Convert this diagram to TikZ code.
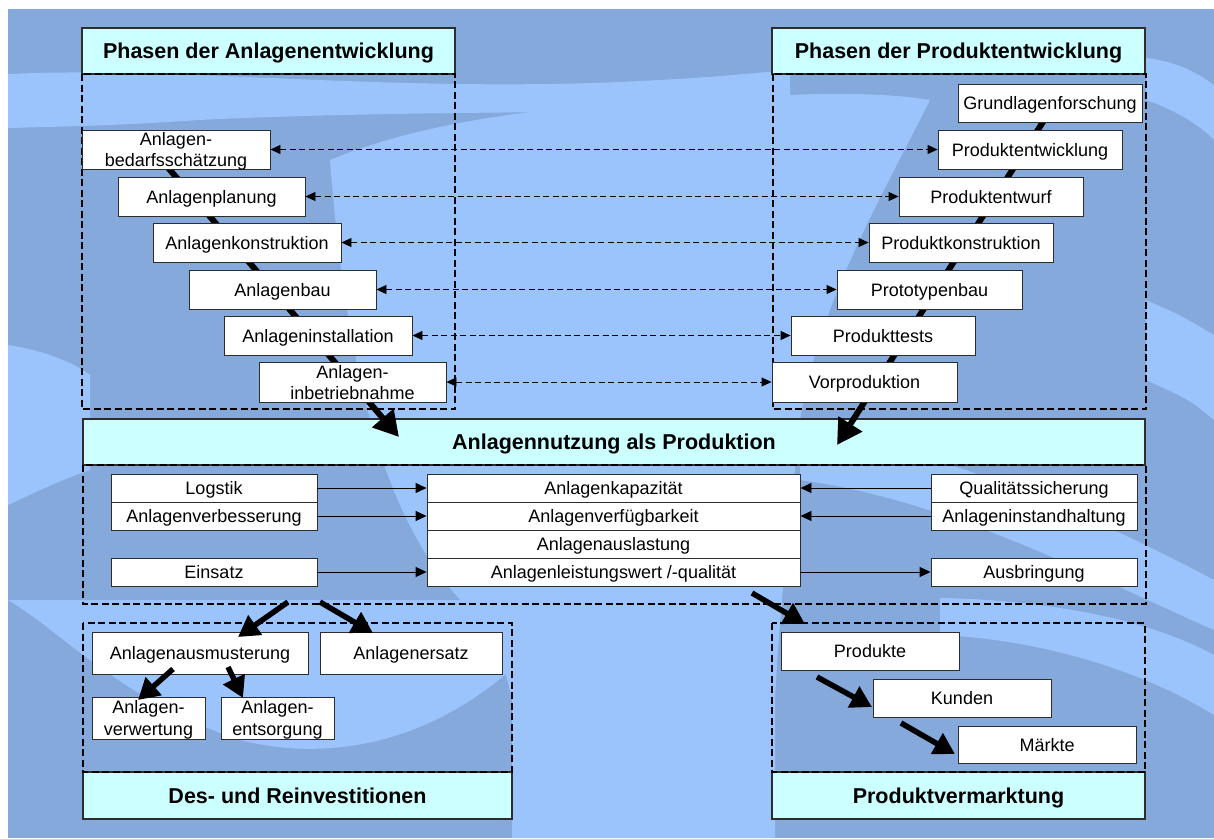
\documentclass[tikz,border=0pt]{standalone}
\usepackage{fontspec}
\setmainfont{Liberation Sans}
\usetikzlibrary{arrows.meta}

\definecolor{bgdark}{RGB}{134,169,220}
\definecolor{bglight}{RGB}{156,196,252}
\definecolor{headfill}{RGB}{204,255,255}
\definecolor{frame}{RGB}{45,45,45}

\tikzset{
  box/.style={draw=frame, line width=0.9pt, fill=white, inner sep=0pt, align=center,
    text height=13pt, text depth=0pt, font=\fontsize{18}{21}\selectfont},
  twoline/.style={box, text height=34pt},
  twolinewide/.style={box, text height=35.5pt, font=\fontsize{18}{22.5}\selectfont},
  head/.style={draw=frame, line width=1.2pt, fill=headfill, inner sep=0pt,
    text height=15.5pt, text depth=0pt, font=\bfseries\fontsize{21.5}{24}\selectfont},
  group/.style={draw=black, line width=1.4pt, dash pattern=on 7pt off 3.5pt},
  link/.style={draw=black, line width=0.9pt, dash pattern=on 6pt off 3.5pt,
    {Triangle[length=10pt,width=9pt]}-{Triangle[length=10pt,width=9pt]}},
  feed/.style={draw=black, line width=0.9pt, -{Triangle[length=11pt,width=10pt]}},
  flow/.style={draw=black, line width=6pt, -{Triangle[length=25pt,width=27pt]}},
  flowsmall/.style={draw=black, line width=5.5pt, -{Triangle[length=21pt,width=23pt]}},
  wave/.style={fill=bglight}
}

% \mkbox[options]{name}{x1}{y1}{x2}{y2}{text}: a node filling the given corners
\newcommand\mkbox[7][box]{%
  \pgfmathsetmacro\boxw{#5-#3}%
  \pgfmathsetmacro\boxh{#6-#4}%
  \node[#1, minimum width=\boxw pt, minimum height=\boxh pt]
    (#2) at ({(#3+#5)/2},{(#4+#6)/2}) {#7};%
}

\begin{document}
\begin{tikzpicture}[x=1pt, y=-1pt]
\useasboundingbox (0,0) rectangle (1214,838);

% backdrop with soft light waves
\fill[white] (0,0) rectangle (1214,838);
\fill[bgdark] (8,9) rectangle (1214,838);
\begin{scope}
  \clip (8,9) rectangle (1214,838);
  \fill[wave] (8,74) .. controls (180,66) and (380,92) .. (620,82)
     .. controls (700,78) .. (790,70) -- (790,110)
     .. controls (600,112) and (350,112) .. (200,120)
     .. controls (120,125) .. (8,128) -- cycle;
  \fill[wave] (330,160) .. controls (450,110) and (620,100) .. (790,95)
     .. controls (850,92) and (900,95) .. (930,100)
     .. controls (880,200) and (820,300) .. (800,420)
     .. controls (790,520) and (780,600) .. (775,700)
     -- (775,838) -- (512,838) -- (512,700)
     .. controls (500,640) and (480,620) .. (470,610)
     .. controls (400,540) and (350,420) .. (330,160) -- cycle;
  \fill[wave] (8,345) .. controls (40,350) and (70,360) .. (90,375)
     -- (90,470) .. controls (60,480) and (30,495) .. (8,505) -- cycle;
  \fill[wave] (1146,58) .. controls (1180,62) and (1200,75) .. (1214,85)
     -- (1214,140) .. controls (1200,125) and (1175,110) .. (1146,100) -- cycle;
  \fill[wave] (1146,300) .. controls (1180,315) .. (1214,335)
     -- (1214,420) .. controls (1190,400) .. (1146,380) -- cycle;
  \fill[wave] (800,430) .. controls (950,450) and (1100,520) .. (1214,580)
     -- (1214,630) .. controls (1100,580) and (950,500) .. (800,480) -- cycle;
  \fill[wave] (940,598) .. controls (1050,600) and (1150,620) .. (1214,655)
     -- (1214,715) .. controls (1150,675) and (1050,640) .. (940,635) -- cycle;
  \fill[wave] (8,600) .. controls (60,630) and (120,700) .. (240,740)
     .. controls (360,770) and (470,720) .. (540,640) -- (540,600) -- cycle;
\end{scope}

% section headers
\mkbox[head]{hAnl}{82}{28}{455}{74}{Phasen der Anlagenentwicklung}
\mkbox[head]{hProd}{772}{28}{1145}{74}{Phasen der Produktentwicklung}
\mkbox[head]{hUse}{83}{419}{1145}{465}{Anlagennutzung als Produktion}
\mkbox[head]{hInv}{83}{772}{512}{819}{Des- und Reinvestitionen}
\mkbox[head]{hMkt}{772}{772}{1145}{819}{Produktvermarktung}

% dashed group frames
\draw[group] (82,74) rectangle (455,409);
\draw[group] (773,74) rectangle (1146,409);
\draw[group] (83,465) rectangle (1146,604);
\draw[group] (83,623) rectangle (512,772);
\draw[group] (772,623) rectangle (1145,772);

% main flows into plant usage
\coordinate (lStart) at (152,149);
\coordinate (lTip) at (399,437);
\coordinate (rStart) at (1055,103);
\coordinate (rTip) at (837,445);
\draw[flow] (lStart) -- (lTip);
\draw[flow] (rStart) -- (rTip);

% plant development phases
\mkbox[twoline]{a1}{82}{130}{270}{169}{Anlagen-\\bedarfsschätzung}
\mkbox{a2}{118}{177}{305}{216}{Anlagenplanung}
\mkbox{a3}{153}{223}{341}{262}{Anlagenkonstruktion}
\mkbox{a4}{189}{270}{376}{309}{Anlagenbau}
\mkbox{a5}{224}{316}{412}{355}{Anlageninstallation}
\mkbox[twoline]{a6}{259}{362}{446}{402}{Anlagen-\\inbetriebnahme}

% product development phases
\mkbox{p0}{958}{84}{1142}{122}{Grundlagenforschung}
\mkbox{p1}{938}{130}{1122}{169}{Produktentwicklung}
\mkbox{p2}{899}{177}{1083}{216}{Produktentwurf}
\mkbox{p3}{869}{223}{1053}{262}{Produktkonstruktion}
\mkbox{p4}{837}{270}{1022}{309}{Prototypenbau}
\mkbox{p5}{791}{316}{975}{355}{Produkttests}
\mkbox{p6}{772}{362}{957}{402}{Vorproduktion}

% phase correspondences
\draw[link] (a1.east) -- (p1.west);
\draw[link] (a2.east) -- (p2.west);
\draw[link] (a3.east) -- (p3.west);
\draw[link] (a4.east) -- (p4.west);
\draw[link] (a5.east) -- (p5.west);
\draw[link] (a6.east) -- (p6.west);

% plant usage block
\mkbox{log}{111}{474}{317}{502}{Logstik}
\mkbox{verb}{111}{502}{317}{530}{Anlagenverbesserung}
\mkbox{ein}{111}{558}{317}{586}{Einsatz}
\mkbox{kap}{427}{474}{800}{502}{Anlagenkapazität}
\mkbox{verf}{427}{502}{800}{530}{Anlagenverfügbarkeit}
\mkbox{ausl}{427}{530}{800}{558}{Anlagenauslastung}
\mkbox{leist}{427}{558}{800}{586}{Anlagenleistungswert /-qualität}
\mkbox{qual}{931}{474}{1137}{502}{Qualitätssicherung}
\mkbox{inst}{931}{502}{1137}{530}{Anlageninstandhaltung}
\mkbox{ausb}{931}{558}{1137}{586}{Ausbringung}

\draw[feed] (log.east) -- (kap.west);
\draw[feed] (verb.east) -- (verf.west);
\draw[feed] (ein.east) -- (leist.west);
\draw[feed] (qual.west) -- (kap.east);
\draw[feed] (inst.west) -- (verf.east);
\draw[feed] (leist.east) -- (ausb.west);

% divestment and reinvestment
\mkbox{ausm}{92}{632}{308}{674}{Anlagenausmusterung}
\mkbox{ersatz}{320}{632}{502}{674}{Anlagenersatz}
\mkbox[twolinewide]{verw}{92}{697}{205}{739}{Anlagen-\\verwertung}
\mkbox[twolinewide]{entsg}{221}{697}{334}{739}{Anlagen-\\entsorgung}

\coordinate (uOut1) at (288,602);
\coordinate (uOut2) at (320,602);
\coordinate (ausmTip) at (238,637);
\coordinate (ersTip) at (373,633);
\draw[flowsmall] (uOut1) -- (ausmTip);
\draw[flowsmall] (uOut2) -- (ersTip);

\coordinate (ausmOut1) at (173,669);
\coordinate (ausmOut2) at (228,667);
\coordinate (verwTip) at (138,700);
\coordinate (entsTip) at (243,698);
\draw[flowsmall] (ausmOut1) -- (verwTip);
\draw[flowsmall] (ausmOut2) -- (entsTip);

% product marketing
\mkbox{prod}{781}{632}{959}{670}{Produkte}
\mkbox{kund}{873}{679}{1051}{717}{Kunden}
\mkbox{mark}{958}{726}{1136}{763}{Märkte}

\coordinate (uOut3) at (752,593);
\coordinate (mktTip) at (805,624);
\draw[flowsmall] (uOut3) -- (mktTip);
\coordinate (prodOut) at (817,677);
\coordinate (kundTip) at (872,707);
\coordinate (kundOut) at (901,723);
\coordinate (markTip) at (955,754);
\draw[flowsmall] (prodOut) -- (kundTip);
\draw[flowsmall] (kundOut) -- (markTip);
\end{tikzpicture}
\end{document}
